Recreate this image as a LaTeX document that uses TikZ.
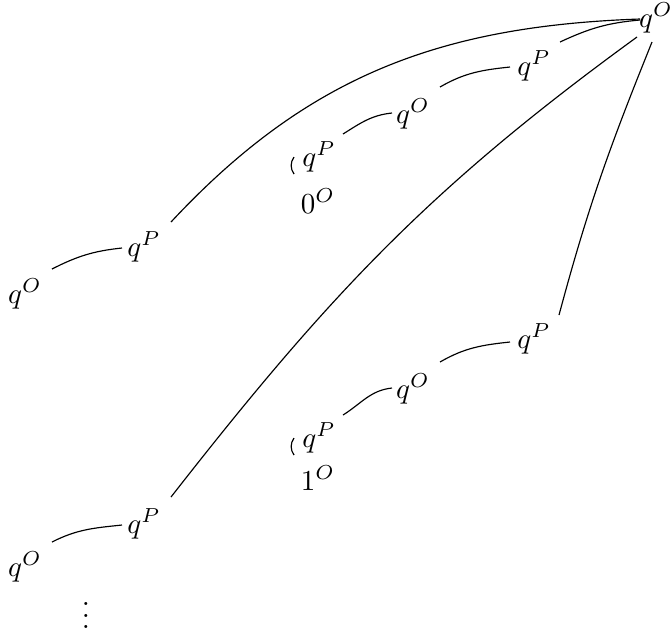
\documentclass[tikz,border=0pt]{standalone}
\begin{document}
\begin{tikzpicture}[x=0.345pt,y=0.345pt,
  mv/.style={inner sep=0pt, outer sep=0pt},
  ptr/.style={line width=0.4pt}]
\useasboundingbox (0,0) rectangle (672,-635);
\node[mv] (A) at (656,-18) {$q^O$};
\node[mv] (B) at (534,-66) {$q^P$};
\node[mv] (C) at (413,-114) {$q^O$};
\node[mv] (D) at (319,-157) {$q^P$};
\node[mv] (E) at (318,-201) {$0^O$};
\node[mv] (F) at (144,-247) {$q^P$};
\node[mv] (G) at (25,-294) {$q^O$};
\node[mv] (H) at (534,-339) {$q^P$};
\node[mv] (I) at (413,-389) {$q^O$};
\node[mv] (J) at (319,-438) {$q^P$};
\node[mv] (K) at (318,-478) {$1^O$};
\node[mv] (L) at (144,-524) {$q^P$};
\node[mv] (M) at (25,-567) {$q^O$};
\node[mv] (V) at (86,-607) {$\vdots$};
% pointers
\draw[ptr] ([shift={(27,25)}]F.center) to[out=47,in=182] ([shift={(-16,-1)}]A.center);
\draw[ptr] ([shift={(26,24)}]B.center) to[out=25,in=185] ([shift={(-16,-2)}]A.center);
\draw[ptr] ([shift={(27,27)}]C.center) to[out=30,in=186] ([shift={(-24,-1)}]B.center);
\draw[ptr] ([shift={(24,23)}]D.center) to[out=32,in=186] ([shift={(-21,1)}]C.center);
\draw[ptr] ([shift={(27,25)}]G.center) to[out=27,in=186] ([shift={(-22,-1)}]F.center);
\draw[ptr] ([shift={(27,27)}]L.center) to[out=52,in=216] ([shift={(-19,-19)}]A.center);
\draw[ptr] ([shift={(25,24)}]H.center) to[out=75,in=248] ([shift={(-4,-24)}]A.center);
\draw[ptr] ([shift={(27,27)}]I.center) to[out=30,in=186] ([shift={(-24,-3)}]H.center);
\draw[ptr] ([shift={(24,23)}]J.center) to[out=32,in=186] ([shift={(-21,1)}]I.center);
\draw[ptr] ([shift={(27,25)}]M.center) to[out=27,in=186] ([shift={(-22,-1)}]L.center);
% short pointers from the answers
\draw[ptr] ([shift={(-25,-17)}]D.center) to[bend left=35] ([shift={(-25,0)}]D.center);
\draw[ptr] ([shift={(-25,-17)}]J.center) to[bend left=35] ([shift={(-25,0)}]J.center);
\end{tikzpicture}
\end{document}
